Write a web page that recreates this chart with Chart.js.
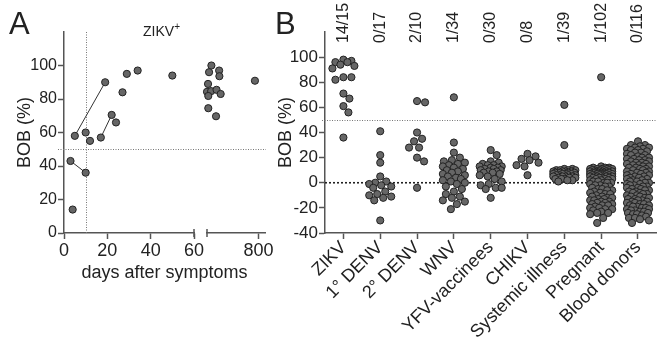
<!DOCTYPE html>
<html>
<head>
<meta charset="utf-8">
<script src="https://cdn.jsdelivr.net/npm/chart.js@4.4.1/dist/chart.umd.min.js"></script>
<style>
html, body { margin: 0; padding: 0; width: 661px; height: 339px; overflow: hidden; background: #fff; }
#wrap { position: relative; width: 661px; height: 339px; overflow: hidden; font-family: 'Liberation Sans', Arial, sans-serif; color: #222; }
canvas { position: absolute; top: 0; }
#chartA { left: 0; }
#chartB { left: 270px; }
.lbl { position: absolute; line-height: 1; white-space: nowrap; }
</style>
</head>
<body>
<div id="wrap">
  <canvas id="chartA" width="300" height="339"></canvas>
  <canvas id="chartB" width="391" height="400"></canvas>
  <div class="lbl" style="left:9px;top:8px;font-size:31px">A</div>
  <div class="lbl" style="left:275px;top:8px;font-size:31px">B</div>
  <div class="lbl" style="left:143px;top:24px;font-size:14px">ZIKV<span style="position:relative;top:-6px;font-size:10px">+</span></div>
  <div class="lbl" style="left:64px;top:263px;width:201px;text-align:center;font-size:18px">days after symptoms</div>
</div>
<script>
// ---- panel A: BOB (%) against days after symptoms ----
const earlyDays = [4, 10, 12, 24, 27, 29, 34, 50];
const earlyBob = [14, 60, 55, 66, 84, 95, 97, 94];
// patients sampled twice, joined by a line
const pairDays = [[3, 10], [5, 19], [17, 22]];
const pairBob = [[43, 36], [58, 90], [57, 70.5]];
// samples after the axis break
const lateDays = [617, 608, 647, 648, 604, 600, 616, 637, 653, 605, 605, 635, 786];
const lateBob = [100, 96, 97, 93.6, 89, 84.3, 84.7, 85.5, 83, 81.8, 74.5, 69.7, 90.9];

// ---- panel B: BOB (%) per group ----
const groups = ['ZIKV', '1° DENV', '2° DENV', 'WNV', 'YFV-vaccinees', 'CHIKV', 'Systemic illness', 'Pregnant', 'Blood donors'];
const positives = ['14/15', '0/17', '2/10', '1/34', '0/30', '0/8', '1/39', '1/102', '0/116'];

const zikv = [98, 97, 96, 96, 94, 93, 91, 84, 84, 82, 71, 67, 61, 56, 36];
const denv1 = [41, 22, 16, 5, 1, 0, -1, -2, -3, -4, -7, -9, -10, -11, -12, -14, -30];
const denv2 = [65, 64, 40, 35, 33, 28, 28, 20, 17, -4];
const wnv = [68, 32, 24, 20, 18, 17, 16, 15, 14, 13, 12, 11, 10, 9, 8, 7, 6, 5, 4, 3, 2, 1, 0, -1,
  -3, -5, -7, -9, -11, -12, -14, -15, -17, -21];
const yfv = [26, 22, 17, 16, 15, 14, 14, 13, 13, 12, 12, 11, 11, 10, 10, 9, 9, 8, 8, 7, 6, 5, 3, 1,
  -1, -2, -4, -4, -5, -12];
const chikv = [23, 21, 19, 18, 16, 14, 13, 6];
const systemic = [62, 30, 11, 11, 10, 10, 10, 10, 9, 9, 9, 9, 8, 8, 8, 8, 8, 7, 7, 7, 7, 7, 6, 6, 6, 6,
  5, 5, 5, 5, 4, 4, 4, 3, 3, 3, 2, 2, 1];
const pregnant = [84,
  13, 12, 12, 12, 11, 11, 11, 11, 11, 10, 10, 10, 10, 10,
  9, 9, 9, 9, 9, 9, 8, 8, 8, 8, 8, 8, 7, 7, 7, 7, 7, 7, 6, 6, 6, 6, 6, 6,
  5, 5, 5, 5, 4, 4, 4, 4, 3, 3, 3, 2, 2, 2, 1, 1, 0, 0, 0,
  -1, -2, -2, -3, -3, -4, -5, -5, -6, -6, -7, -8, -8, -9, -9, -10, -11, -11, -12, -12,
  -13, -13, -14, -14, -15, -15, -16, -16, -17, -17, -18, -18, -19, -20, -20, -21, -21,
  -22, -23, -24, -24, -25, -28, -32];
const bloodDonors = [33, 30, 30, 29, 28, 28, 27, 27, 26, 26, 25,
  24, 24, 23, 22, 22, 21, 20, 20, 19, 19, 18, 18, 17, 17, 16, 16, 15, 15,
  14, 14, 13, 13, 12, 12, 11, 11, 10, 10, 9, 9, 8, 8, 7, 7, 6, 6, 5, 5,
  4, 4, 3, 3, 2, 2, 1, 1, 0, 0, -1, -1, -2, -2, -3, -3, -4, -4, -5, -5,
  -6, -6, -7, -7, -8, -8, -9, -9, -10, -10, -11, -11, -12, -12, -13, -13, -14, -14, -15, -15,
  -16, -16, -17, -17, -18, -18, -19, -19, -20, -20, -21, -21, -22, -22, -23, -23, -24, -24, -25, -25,
  -26, -27, -28, -28, -29, -30, -32];
const groupValues = [zikv, denv1, denv2, wnv, yfv, chikv, systemic, pregnant, bloodDonors];

Chart.defaults.font.family = "'Liberation Sans', Arial, sans-serif";
Chart.defaults.color = '#222';
const AXIS = '#555';
const DOT = {
  pointRadius: 3.6, pointHoverRadius: 3.6, clip: false,
  pointBackgroundColor: '#666', pointBorderColor: '#222', pointBorderWidth: 1
};
const axisLook = {
  border: { display: true, color: AXIS, width: 1.5 },
  grid: { display: true, drawOnChartArea: false, tickLength: 6, tickColor: AXIS, tickWidth: 1.5 }
};
const setTicks = vals => s => { s.ticks = vals.map(v => ({ value: v })); };
const pts = (xs, ys) => xs.map((x, i) => ({ x: x, y: ys[i] }));

// dotted guides + axis break caps for panel A
const guidesA = {
  id: 'guidesA',
  beforeDatasetsDraw(chart) {
    const { ctx, chartArea, scales } = chart;
    ctx.save();
    ctx.strokeStyle = '#777';
    ctx.lineWidth = 1;
    ctx.setLineDash([1, 1.5]);
    const y50 = Math.round(scales.y.getPixelForValue(50)) + 0.5;
    ctx.beginPath(); ctx.moveTo(chartArea.left - 6, y50); ctx.lineTo(chartArea.right + 1, y50); ctx.stroke();
    const x10 = Math.round(scales.x.getPixelForValue(10)) + 0.5;
    ctx.beginPath(); ctx.moveTo(x10, chartArea.top); ctx.lineTo(x10, chartArea.bottom); ctx.stroke();
    ctx.setLineDash([]);
    ctx.strokeStyle = AXIS;
    ctx.lineWidth = 1.5;
    [scales.x.right, scales.x2.left].forEach(x => {
      ctx.beginPath(); ctx.moveTo(x, chartArea.bottom - 4); ctx.lineTo(x, chartArea.bottom + 4); ctx.stroke();
    });
    ctx.restore();
  }
};

const dsA = [{ data: pts(earlyDays, earlyBob), xAxisID: 'x', ...DOT }];
pairDays.forEach((d, i) => {
  dsA.push({ data: pts(d, pairBob[i]), xAxisID: 'x', showLine: true, borderColor: '#333', borderWidth: 1, ...DOT });
});
dsA.push({ data: pts(lateDays, lateBob), xAxisID: 'x2', ...DOT });

new Chart(document.getElementById('chartA'), {
  type: 'scatter',
  data: { datasets: dsA },
  options: {
    animation: false, responsive: false, events: [],
    layout: { padding: { top: 32, right: 35, left: 0, bottom: 0 } },
    plugins: { legend: { display: false }, tooltip: { enabled: false } },
    scales: {
      x: {
        type: 'linear', axis: 'x', position: 'bottom', min: 0, max: 60, stack: 'days', stackWeight: 130, weight: 0,
        afterBuildTicks: setTicks([0, 20, 40, 60]),
        afterFit: s => { s.height = 106; },
        ticks: { font: { size: 18 }, padding: 1, maxRotation: 0 },
        ...axisLook
      },
      gap: {
        type: 'linear', axis: 'x', position: 'bottom', min: 0, max: 1, stack: 'days', stackWeight: 13, weight: 1,
        border: { display: false }, grid: { display: false }, ticks: { display: false },
        afterFit: s => { s.height = 106; }
      },
      x2: {
        type: 'linear', axis: 'x', position: 'bottom', min: 600, max: 825, stack: 'days', stackWeight: 58, weight: 2,
        afterBuildTicks: setTicks([800]),
        afterFit: s => { s.height = 106; },
        ticks: { font: { size: 18 }, padding: 1, maxRotation: 0 },
        ...axisLook
      },
      y: {
        type: 'linear', min: 0, max: 120,
        afterBuildTicks: setTicks([0, 20, 40, 60, 80, 100]),
        afterFit: s => { s.width = 64; },
        ticks: { font: { size: 16 }, padding: 1 },
        title: { display: true, text: 'BOB (%)', font: { size: 18 }, padding: { top: 14, bottom: 0 } },
        ...axisLook
      }
    }
  },
  plugins: [guidesA]
});

// dotted guides and positive counts for panel B
const guidesB = {
  id: 'guidesB',
  beforeDatasetsDraw(chart) {
    const { ctx, chartArea, scales } = chart;
    ctx.save();
    ctx.strokeStyle = '#777';
    ctx.lineWidth = 1;
    ctx.setLineDash([1, 1.5]);
    const y50 = Math.round(scales.y.getPixelForValue(50)) + 0.5;
    ctx.beginPath(); ctx.moveTo(chartArea.left - 3, y50); ctx.lineTo(chartArea.right, y50); ctx.stroke();
    ctx.strokeStyle = '#222';
    ctx.lineWidth = 1.6;
    ctx.setLineDash([2, 2]);
    const y0 = scales.y.getPixelForValue(0);
    ctx.beginPath(); ctx.moveTo(chartArea.left, y0); ctx.lineTo(chartArea.right, y0); ctx.stroke();
    ctx.restore();
  },
  afterDraw(chart) {
    const { ctx, scales } = chart;
    ctx.save();
    ctx.fillStyle = '#222';
    ctx.font = "16px 'Liberation Sans', Arial, sans-serif";
    ctx.textAlign = 'left';
    ctx.textBaseline = 'middle';
    positives.forEach((t, i) => {
      ctx.save();
      ctx.translate(scales.x.getPixelForValue(i), 43);
      ctx.rotate(-Math.PI / 2);
      ctx.fillText(t, 0, 0);
      ctx.restore();
    });
    ctx.restore();
  }
};

// spread the dots of a group sideways (beeswarm), in pixels
function swarmOffsets(yPx, minDist, maxHalf) {
  const order = yPx.map((v, i) => i).sort((a, b) => yPx[a] - yPx[b]);
  const placed = [];
  const offs = new Array(yPx.length);
  order.forEach(i => {
    let best = 0, bestD = -1;
    for (let k = 0; k <= 2 * maxHalf; k++) {
      const dx = (k % 2 ? 1 : -1) * Math.ceil(k / 2);
      let d = Infinity;
      placed.forEach(p => { d = Math.min(d, Math.hypot(p.x - dx, p.y - yPx[i])); });
      if (d >= minDist) { best = dx; bestD = d; break; }
      if (d > bestD) { bestD = d; best = dx; }
    }
    placed.push({ x: best, y: yPx[i] });
    offs[i] = best;
  });
  return offs;
}

const chartB = new Chart(document.getElementById('chartB'), {
  type: 'scatter',
  data: { datasets: groupValues.map((vals, i) => ({ data: vals.map(v => ({ x: i, y: v })), ...DOT })) },
  options: {
    animation: false, responsive: false, events: [],
    layout: { padding: { top: 32, right: 1, left: 0, bottom: 0 } },
    plugins: { legend: { display: false }, tooltip: { enabled: false } },
    scales: {
      x: {
        type: 'linear', min: -0.5, max: 8.5,
        afterBuildTicks: setTicks(groups.map((g, i) => i)),
        afterFit: s => { s.height = 167; },
        ticks: { callback: (v, i) => groups[i], minRotation: 45, maxRotation: 45, autoSkip: false, font: { size: 18 }, padding: -2 },
        ...axisLook
      },
      y: {
        type: 'linear', min: -40, max: 120,
        afterBuildTicks: setTicks([-40, -20, 0, 20, 40, 60, 80, 100]),
        afterFit: s => { s.width = 55; },
        ticks: { font: { size: 17 }, padding: 1 },
        title: { display: true, text: 'BOB (%)', font: { size: 18 }, padding: { top: 5, bottom: 0 } },
        ...axisLook
      }
    }
  },
  plugins: [guidesB]
});

const xsB = chartB.scales.x, ysB = chartB.scales.y;
const pxPerGroup = xsB.getPixelForValue(1) - xsB.getPixelForValue(0);
chartB.data.datasets.forEach((ds, i) => {
  const vals = groupValues[i];
  const offs = swarmOffsets(vals.map(v => ysB.getPixelForValue(v)), 7.5, 11);
  ds.data = vals.map((v, k) => ({ x: i + offs[k] / pxPerGroup, y: v }));
});
chartB.update('none');
</script>
</body>
</html>
